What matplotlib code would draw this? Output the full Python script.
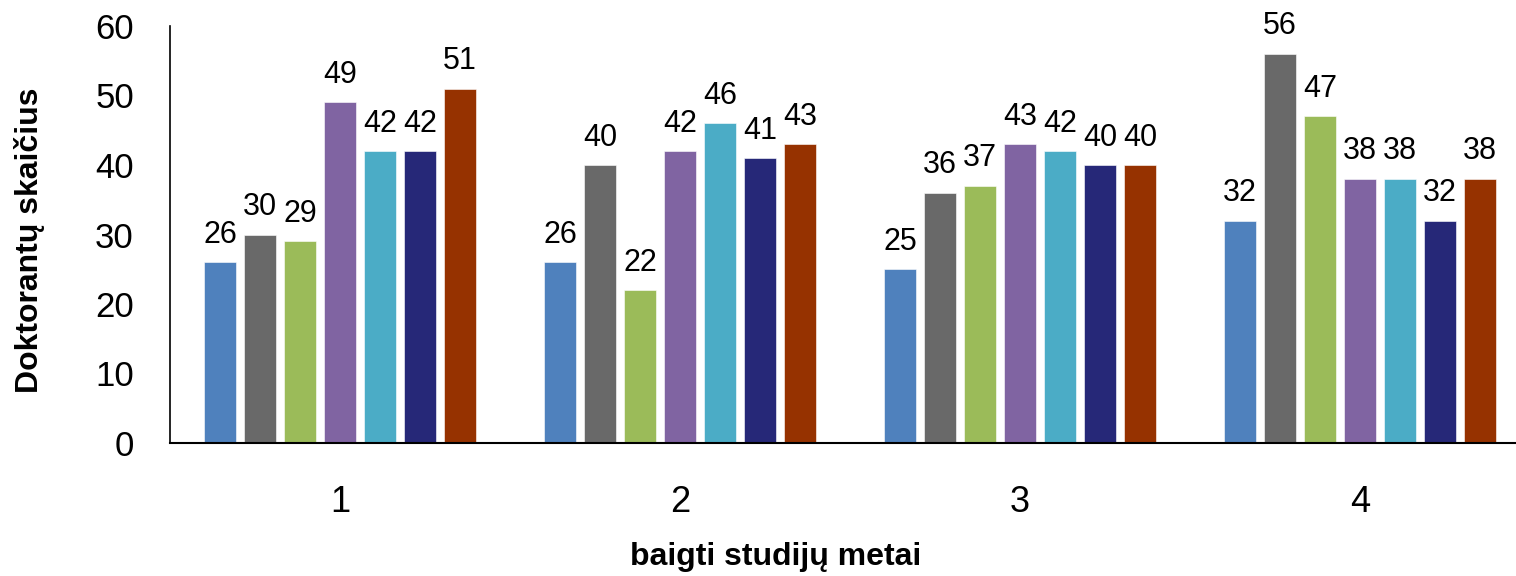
import matplotlib.pyplot as plt
import numpy as np

plt.rcParams['font.family'] = ['Liberation Sans', 'DejaVu Sans']

# data
groups = ['1', '2', '3', '4']
series_1 = [26, 26, 25, 32]
series_2 = [30, 40, 36, 56]
series_3 = [29, 22, 37, 47]
series_4 = [49, 42, 43, 38]
series_5 = [42, 46, 42, 38]
series_6 = [42, 41, 40, 32]
series_7 = [51, 43, 40, 38]
all_series = [series_1, series_2, series_3, series_4, series_5, series_6, series_7]
colors = ['#4F81BD', '#696969', '#9BBB59', '#8064A2', '#4BACC6', '#262878', '#963200']

fig = plt.figure(figsize=(15.16, 5.76), dpi=100)
ax = fig.add_axes([170/1516, 1 - 443/576, 1 - 170/1516, (443 - 26)/576])

x = np.arange(1, len(groups) + 1)
step = 40/340
width = 32/340
for k, (vals, c) in enumerate(zip(all_series, colors)):
    bars = ax.bar(x + (k - 3)*step, vals, width=width, color=c, edgecolor='white', linewidth=0.4)
    ax.bar_label(bars, labels=[str(v) for v in vals], padding=9, fontsize=22)

ax.set_ylim(0, 60)
ax.set_xlim(0.5, 0.5 + (1516 - 170)/340)
ax.set_yticks(range(0, 61, 10))
ax.set_xticks(x)
ax.set_xticklabels(groups)
ax.tick_params(axis='y', length=0, labelsize=25, pad=26)
ax.tick_params(axis='x', length=0, labelsize=26, pad=30)
ax.spines['top'].set_visible(False)
ax.spines['right'].set_visible(False)
ax.spines['left'].set_linewidth(1.2)
ax.spines['bottom'].set_linewidth(1.5)

fig.text(30/1516, 1 - 240/576, 'Doktorantų skaičius', fontsize=23, fontweight='bold',
         rotation=90, ha='center', va='center')
fig.text(776/1516, 1 - 557/576, 'baigti studijų metai', fontsize=23, fontweight='bold',
         ha='center', va='center')

fig.savefig('out.png', dpi=100)
